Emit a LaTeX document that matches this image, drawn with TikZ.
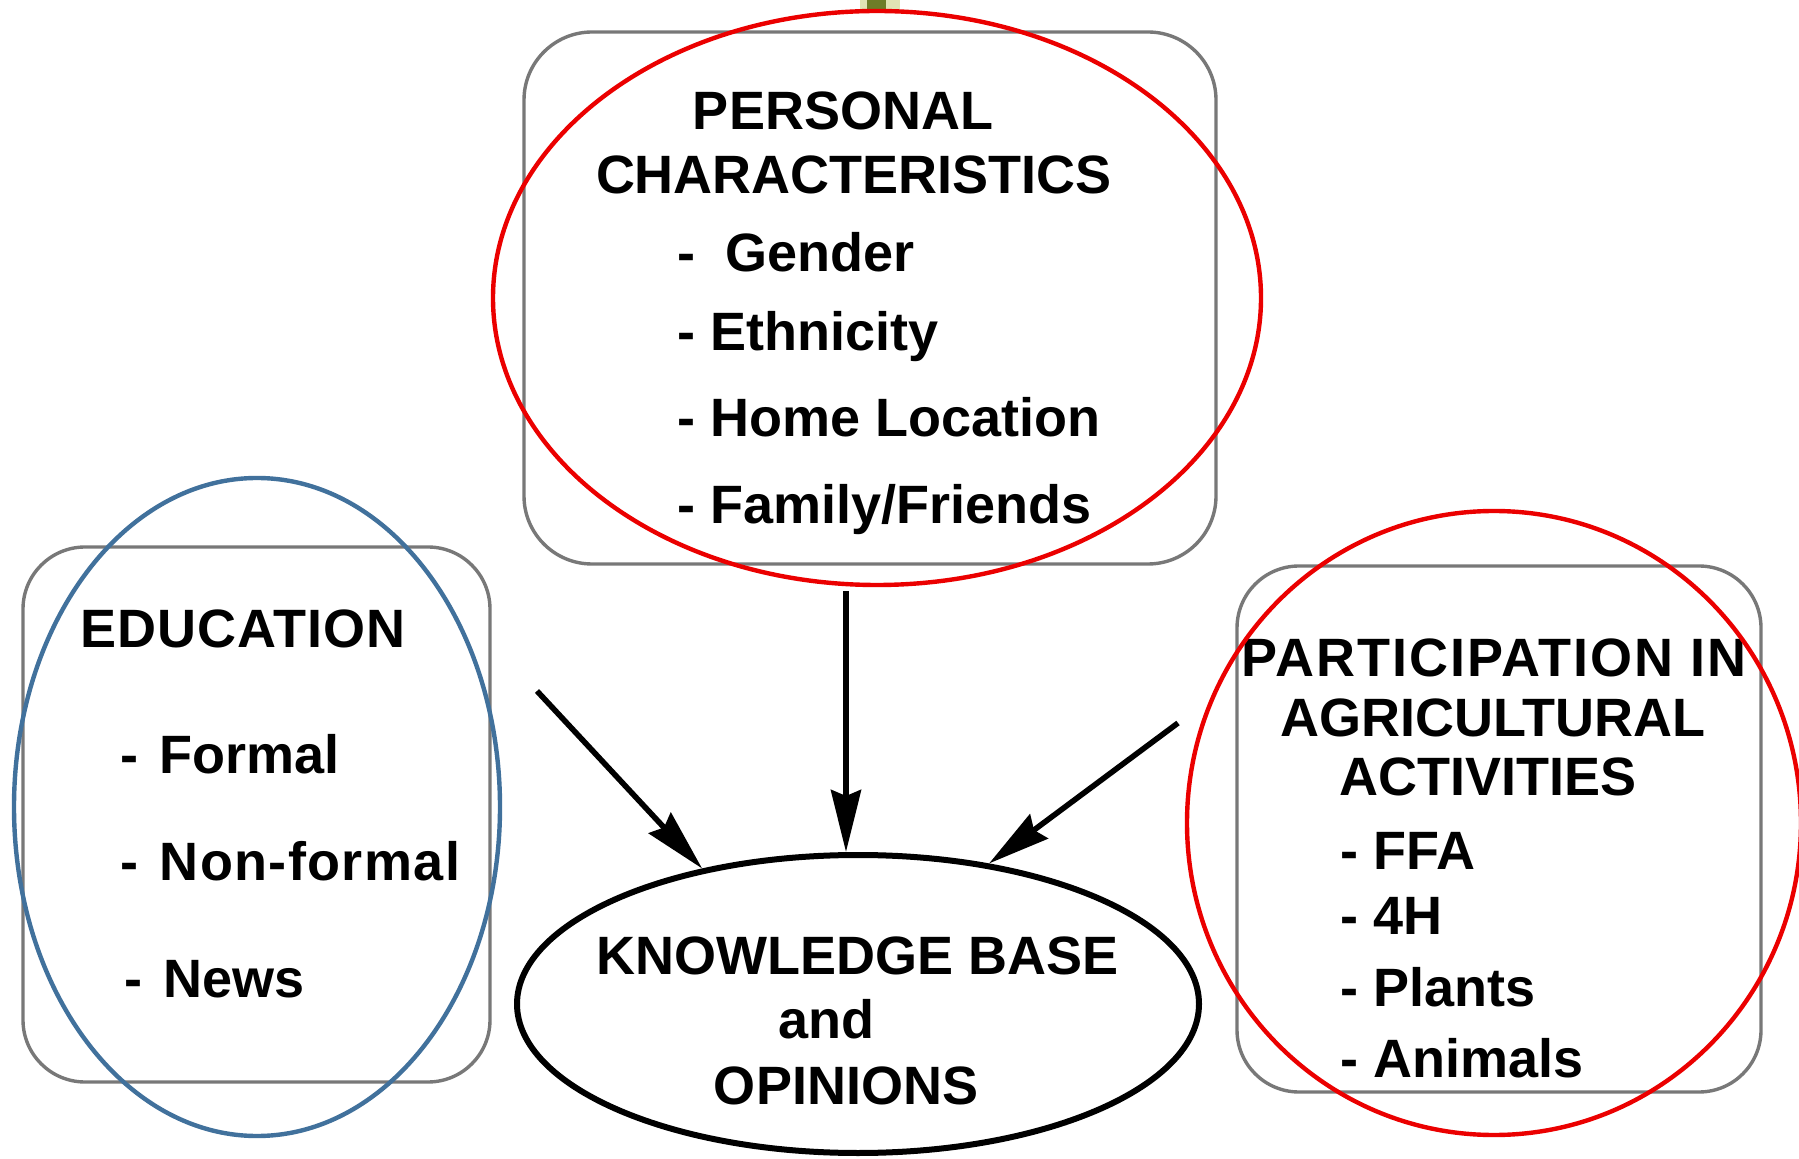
\documentclass[tikz,border=0pt]{standalone}
\usepackage{fontspec}
\setmainfont{Liberation Sans}
\usetikzlibrary{arrows.meta,shapes.geometric}
\definecolor{boxgray}{RGB}{120,120,120}
\definecolor{annred}{RGB}{235,0,0}
\definecolor{annblue}{RGB}{65,113,156}
\definecolor{olivemark}{RGB}{110,125,40}
\definecolor{olivehalo}{RGB}{225,228,180}
\begin{document}
\begin{tikzpicture}[x=0.5pt,y=-0.5pt,
  box/.style={draw=boxgray, line width=1.7pt, rectangle, inner sep=0pt, rounded corners=31pt},
  txt/.style={font=\fontsize{27}{32}\selectfont\bfseries, inner sep=0pt},
  annot/.style={line width=2.2pt},
  arr/.style={line width=2.8pt, -{Stealth[length=31pt,width=15pt,inset=3pt]}},
]
\useasboundingbox[fill=white] (0,0) rectangle (1799,1159);

% small mark at the top
\fill[olivehalo] (860,0) rectangle (900,13);
\fill[olivemark] (867,0) rectangle (886,12);

% boxes
\node[box, minimum width=346pt, minimum height=266pt, rounded corners=34pt] (pcbox) at (870,298) {};
\node[box, minimum width=233.5pt, minimum height=267.5pt] (edbox) at (256.5,814.5) {};
\node[box, minimum width=262pt, minimum height=263pt] (pabox) at (1499,829) {};
\node[draw, ellipse, line width=3pt, minimum width=341pt, minimum height=149pt, inner sep=0pt] (kb) at (858,1004) {};

% personal characteristics text
\node[txt, anchor=base] (pc1) at (843,130) {PERSONAL};
\node[txt, anchor=base] (pc2) at (854,194) {CHARACTERISTICS};
\node[txt, anchor=base west] (pc3) at (677,272) {-\ \ Gender};
\node[txt, anchor=base west] (pc4) at (677,351) {- Ethnicity};
\node[txt, anchor=base west] (pc5) at (677,437) {- Home Location};
\node[txt, anchor=base west] (pc6) at (677,524) {- Family/Friends};

% education text
\node[txt, anchor=base west] (ed1) at (80,648) {\addfontfeatures{LetterSpace=2}EDUCATION};
\node[txt, anchor=base west] (ed2) at (120,774) {-\hspace{0.4em}Formal};
\node[txt, anchor=base west] (ed3) at (120,880) {-\hspace{0.4em}\addfontfeatures{LetterSpace=2.5}Non-formal};
\node[txt, anchor=base west] (ed4) at (124,997) {-\hspace{0.4em}News};

% participation text
\node[txt, anchor=base] (pa1) at (1494,677) {\addfontfeatures{LetterSpace=3.7}PARTICIPATION IN};
\node[txt, anchor=base] (pa2) at (1493,737) {AGRICULTURAL};
\node[txt, anchor=base] (pa3) at (1488,796) {ACTIVITIES};
\node[txt, anchor=base west] (pa4) at (1340,869) {- FFA};
\node[txt, anchor=base west] (pa5) at (1340,934) {- 4H};
\node[txt, anchor=base west] (pa6) at (1340,1006) {- Plants};
\node[txt, anchor=base west] (pa7) at (1340,1077) {- Animals};

% knowledge base text
\node[txt, anchor=base] (kb1) at (858,974) {KNOWLEDGE BASE};
\node[txt, anchor=base] (kb2) at (826,1038) {and};
\node[txt, anchor=base] (kb3) at (846,1104) {OPINIONS};

% arrows
\coordinate (pcout) at (846,591);
\coordinate (edout) at (537,691);
\coordinate (paout) at (1178,723);
\draw[arr] (pcout) -- (pcout |- kb.north);
\draw[arr] (edout) -- (kb.139);
\draw[arr] (paout) -- (kb.47);

% annotation ellipses
\draw[annred, annot] (877,298) ellipse [x radius=192pt, y radius=143.5pt];
\draw[annred, annot] (1494,823) ellipse [x radius=153.5pt, y radius=156pt];
\draw[annblue, annot] (257,807) ellipse [x radius=121.5pt, y radius=164.5pt];
\end{tikzpicture}
\end{document}
